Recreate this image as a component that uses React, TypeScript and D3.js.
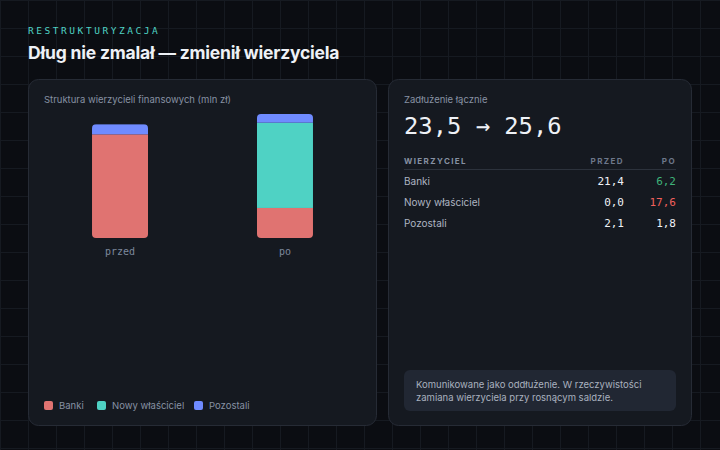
import React from "react";
import * as d3 from "d3";

const periods = ["przed", "po"];
const creditors = ["Banki", "Nowy właściciel", "Pozostali"];
const przedValues = [21.4, 0.0, 2.1];
const poValues = [6.2, 17.6, 1.8];
const colors = ["#e07371", "#4fd2c4", "#6f8bff"];
const poColorsText = ["#3fb37a", "#f0605c", "#eef1f6"];
const totals = ["23,5", "25,6"];

const W = 720;
const H = 450;
const SANS = "Inter, 'Noto Sans', sans-serif";
const MONO = "'DejaVu Sans Mono', 'Liberation Mono', monospace";

const fmt = (v: number) => v.toFixed(1).replace(".", ",");

export default function App() {
  const rows = periods.map((p, i) => {
    const vals = i === 0 ? przedValues : poValues;
    const o: any = { period: p };
    creditors.forEach((c, j) => (o[c] = vals[j]));
    return o;
  });
  const stack = d3.stack<any>().keys(creditors);
  const series = stack(rows);
  const maxTotal = d3.max(rows, (r: any) => d3.sum(creditors, (c) => r[c])) as number;

  const x = d3.scaleBand<string>().domain(periods).range([44, 361]).paddingInner(0.6606).paddingOuter(0.291);
  const y = d3.scaleLinear().domain([0, maxTotal]).range([238, 114]);

  const gridX = d3.range(0, W + 1, 28);
  const gridY = d3.range(0, H + 1, 28);

  const legendX = [44, 97, 194];

  return (
    <svg width={W} height={H} style={{ position: "absolute", left: 0, top: 0, display: "block" }}>
      <rect x={0} y={0} width={W} height={H} fill="#0b0d12" />
      {gridX.map((gx) => (
        <line key={"gx" + gx} x1={gx + 0.5} x2={gx + 0.5} y1={0} y2={H} stroke="#161a21" strokeWidth={1} />
      ))}
      {gridY.map((gy) => (
        <line key={"gy" + gy} x1={0} x2={W} y1={gy + 0.5} y2={gy + 0.5} stroke="#161a21" strokeWidth={1} />
      ))}

      <text x={28} y={34} fill="#4fd2c4" fontFamily={MONO} fontSize={9.5} letterSpacing={2.55}>
        RESTRUKTURYZACJA
      </text>
      <text x={28} y={59} fill="#eef1f6" fontFamily={SANS} fontSize={17.5} fontWeight={700} letterSpacing={-0.2}>
        Dług nie zmalał — zmienił wierzyciela
      </text>

      {/* Left panel */}
      <rect x={28.5} y={79.5} width={348} height={346} rx={10} fill="#151920" stroke="#262b35" />
      <text x={44} y={103} fill="#8791a3" fontFamily={SANS} fontSize={9.5}>
        Struktura wierzycieli finansowych (mln zł)
      </text>

      <defs>
        {periods.map((p, i) => {
          const top = y(d3.sum(i === 0 ? przedValues : poValues));
          return (
            <clipPath id={"clip" + i} key={"clip" + i}>
              <rect x={x(p)} y={top} width={x.bandwidth()} height={y(0) - top} rx={4} />
            </clipPath>
          );
        })}
      </defs>
      {periods.map((p, i) => (
        <g key={p} clipPath={`url(#clip${i})`}>
          {series.map((s, k) => {
            const d = s[i];
            return (
              <rect
                key={k}
                x={x(p)}
                y={y(d[1])}
                width={x.bandwidth()}
                height={Math.max(0, y(d[0]) - y(d[1]))}
                fill={colors[k]}
              />
            );
          })}
        </g>
      ))}
      {periods.map((p) => (
        <text
          key={"l" + p}
          x={(x(p) as number) + x.bandwidth() / 2}
          y={255}
          textAnchor="middle"
          fill="#7c889c"
          fontFamily={MONO}
          fontSize={10}
        >
          {p}
        </text>
      ))}

      {creditors.map((c, k) => (
        <g key={"leg" + c}>
          <rect x={legendX[k]} y={401} width={9} height={9} rx={2} fill={colors[k]} />
          <text x={legendX[k] + 15} y={409} fill="#8791a3" fontFamily={SANS} fontSize={9.5}>
            {c}
          </text>
        </g>
      ))}

      {/* Right panel */}
      <rect x={388.5} y={79.5} width={303} height={346} rx={10} fill="#151920" stroke="#262b35" />
      <text x={404} y={103} fill="#8791a3" fontFamily={SANS} fontSize={9.5}>
        Zadłużenie łącznie
      </text>
      <text x={404} y={134} fill="#eef1f6" fontFamily={MONO} fontSize={23.8}>
        {totals[0] + " → " + totals[1]}
      </text>

      <text x={404} y={164} fill="#8791a3" fontFamily={SANS} fontSize={8} fontWeight={700} letterSpacing={1.4}>
        WIERZYCIEL
      </text>
      <text x={624} y={164} textAnchor="end" fill="#6d778a" fontFamily={SANS} fontSize={8} fontWeight={700} letterSpacing={1.4}>
        PRZED
      </text>
      <text x={676} y={164} textAnchor="end" fill="#6d778a" fontFamily={SANS} fontSize={8} fontWeight={700} letterSpacing={1.4}>
        PO
      </text>
      <line x1={404} x2={676} y1={169.5} y2={169.5} stroke="#2c323c" />

      {creditors.map((c, k) => {
        const ry = 185 + k * 21;
        return (
          <g key={"row" + c}>
            <text x={404} y={ry} fill="#aeb5c2" fontFamily={SANS} fontSize={10}>
              {c}
            </text>
            <text x={624} y={ry} textAnchor="end" fill="#eef1f6" fontFamily={MONO} fontSize={11}>
              {fmt(przedValues[k])}
            </text>
            <text x={676} y={ry} textAnchor="end" fill={poColorsText[k]} fontFamily={MONO} fontSize={11}>
              {fmt(poValues[k])}
            </text>
          </g>
        );
      })}

      <rect x={404} y={370} width={272} height={41} rx={6} fill="#212733" />
      <text x={416} y={388} fill="#a9b1bf" fontFamily={SANS} fontSize={9.5}>
        Komunikowane jako oddłużenie. W rzeczywistości
      </text>
      <text x={416} y={401} fill="#a9b1bf" fontFamily={SANS} fontSize={9.5}>
        zamiana wierzyciela przy rosnącym saldzie.
      </text>
    </svg>
  );
}
